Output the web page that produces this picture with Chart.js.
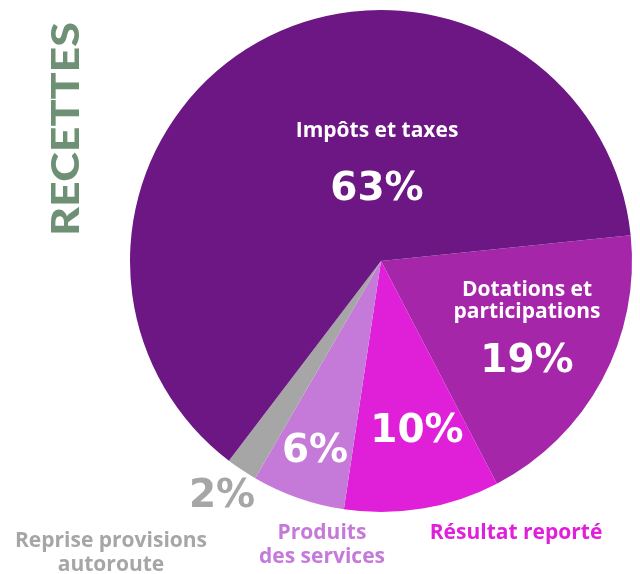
<!DOCTYPE html>
<html>
<head>
<meta charset="utf-8">
<script src="https://cdn.jsdelivr.net/npm/chart.js@4"></script>
<style>
  html, body { margin: 0; padding: 0; background: #fff; }
  #wrap { position: relative; width: 640px; height: 574px; }
</style>
</head>
<body>
<div id="wrap"><canvas id="recettes"></canvas></div>
<script>
    "use strict";

    // Données
    var categories = ["Dotations et participations", "Résultat reporté", "Produits des services", "Reprise provisions autoroute", "Impôts et taxes"];
    var valeurs = [19, 10, 6, 2, 63];
    var couleurs = ["#a626aa", "#e01fd9", "#c57ad9", "#a6a6a6", "#6c1784"];
    var pourcentages = ["19%", "10%", "6%", "2%", "63%"];

    // Textes (étiquettes et titre)
    var labelsPlugin = {
        id: 'labelsRecettes',
        afterDraw: function (chart) {
            var ctx = chart.ctx;
            ctx.save();
            ctx.textAlign = 'center';
            ctx.textBaseline = 'middle';

            function texte(t, x, y, font, color) {
                ctx.font = font;
                ctx.fillStyle = color;
                ctx.fillText(t, x, y);
            }
            var lbl = 'bold 21px "Open Sans"';
            var pct = 'bold 39px "DejaVu Sans"';

            texte("Impôts et taxes", 377, 131, lbl, "#fff");
            texte(pourcentages[4], 377, 190, pct, "#fff");

            texte("Dotations et", 527, 290, lbl, "#fff");
            texte("participations", 527, 312, lbl, "#fff");
            texte(pourcentages[0], 527, 362, pct, "#fff");

            texte(pourcentages[1], 417, 432, pct, "#fff");
            texte(pourcentages[2], 315, 452, pct, "#fff");
            texte(pourcentages[3], 222, 497, pct, couleurs[3]);

            texte("Reprise provisions", 111, 541, lbl, couleurs[3]);
            texte("autoroute", 111, 565, lbl, couleurs[3]);
            texte("Produits", 322, 533, lbl, couleurs[2]);
            texte("des services", 322, 557, lbl, couleurs[2]);
            texte("Résultat reporté", 516, 533, lbl, couleurs[1]);

            // Titre vertical
            ctx.translate(67, 129);
            ctx.rotate(-Math.PI / 2);
            ctx.font = '900 38px "Lato"';
            var w = ctx.measureText("RECETTES").width;
            ctx.scale(214 / w, 1);
            ctx.fillStyle = "#6e9176";
            ctx.fillText("RECETTES", 0, 0);
            ctx.restore();
        }
    };

    var ctx1 = document.getElementById("recettes").getContext("2d");
    var myChart1 = new Chart(ctx1, {
        type: "pie",
        data: {
            labels: categories,
            datasets: [{
                data: valeurs,
                backgroundColor: couleurs,
                borderWidth: 0,
                hoverOffset: 0
            }]
        },
        options: {
            responsive: true,
            maintainAspectRatio: false,
            animation: false,
            rotation: 84.1,
            layout: {
                padding: { left: 130, right: 8, top: 10, bottom: 62 }
            },
            plugins: {
                legend: { display: false },
                tooltip: { enabled: false }
            }
        },
        plugins: [labelsPlugin]
    });
</script>
</body>
</html>
